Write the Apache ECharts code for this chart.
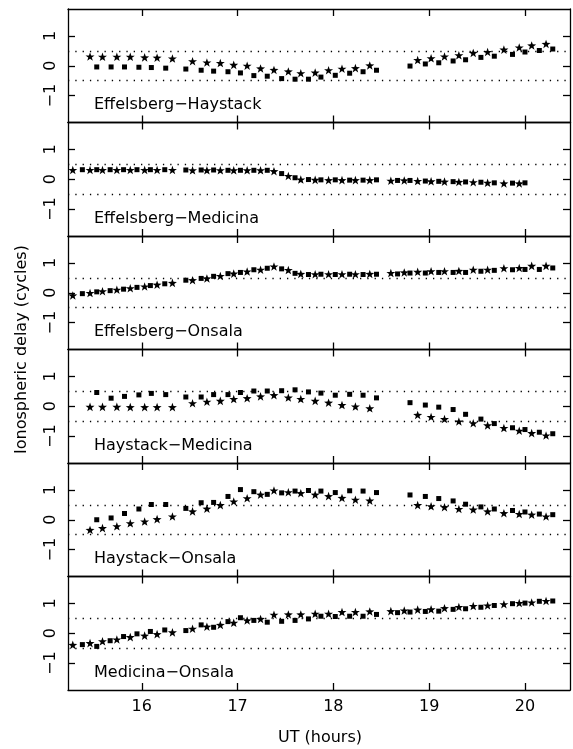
<!DOCTYPE html>
<html>
<head>
<meta charset="utf-8">
<script src="https://cdn.jsdelivr.net/npm/echarts@6/dist/echarts.min.js"></script>
<style>
  html, body { margin: 0; background: #fff; }
  #chart { width: 573px; height: 749px; }
</style>
</head>
<body>
<div id="chart"></div>
<script>
// baseline names, top to bottom
const panelNames = ['Effelsberg−Haystack', 'Effelsberg−Medicina', 'Effelsberg−Onsala',
                    'Haystack−Medicina', 'Haystack−Onsala', 'Medicina−Onsala'];

// scan times (UT hours) for baselines with Haystack
const hayStarT = [15.46, 15.59, 15.74, 15.88, 16.03, 16.16, 16.32,
  16.53, 16.68, 16.82, 16.96, 17.10, 17.24, 17.38, 17.53, 17.66, 17.81, 17.95, 18.09, 18.23, 18.38,
  18.88, 19.02, 19.16, 19.31, 19.46, 19.61, 19.78, 19.94, 20.07, 20.22];
const haySquareT = [15.53, 15.68, 15.82, 15.97, 16.10, 16.25,
  16.46, 16.62, 16.75, 16.90, 17.03, 17.17, 17.31, 17.46, 17.60, 17.74, 17.87, 18.02, 18.17, 18.31, 18.45,
  18.80, 18.96, 19.10, 19.25, 19.38, 19.54, 19.68, 19.87, 20.00, 20.15, 20.29];

// scan times (UT hours) for the european baselines
const eurStarT = [15.28, 15.46, 15.59, 15.74, 15.88, 16.03, 16.16, 16.32,
  16.53, 16.68, 16.82, 16.96, 17.10, 17.24, 17.38, 17.53, 17.66, 17.81, 17.95, 18.09, 18.23, 18.38,
  18.60, 18.74,
  18.88, 19.02, 19.16, 19.31, 19.46, 19.61, 19.78, 19.94, 20.07, 20.22];
const eurSquareT = [15.38, 15.53, 15.67, 15.81, 15.95, 16.09, 16.24,
  16.46, 16.62, 16.75, 16.90, 17.03, 17.17, 17.31, 17.46, 17.60, 17.74, 17.87, 18.02, 18.17, 18.31, 18.45,
  18.67,
  18.80, 18.96, 19.10, 19.25, 19.38, 19.54, 19.68, 19.87, 20.00, 20.15, 20.29];

// delays (cycles)
const ehStar = [0.31, 0.30, 0.30, 0.30, 0.28, 0.27, 0.24,
  0.15, 0.11, 0.09, 0.03, 0.00, -0.09, -0.14, -0.19, -0.25, -0.23, -0.15, -0.10, -0.08, 0.01,
  0.19, 0.25, 0.31, 0.35, 0.43, 0.46, 0.54, 0.61, 0.68, 0.73];
const ehSquare = [-0.04, -0.04, -0.04, -0.05, -0.06, -0.08,
  -0.11, -0.15, -0.18, -0.20, -0.24, -0.33, -0.35, -0.43, -0.45, -0.45, -0.38, -0.32, -0.25, -0.20, -0.15,
  -0.01, 0.06, 0.10, 0.16, 0.20, 0.28, 0.32, 0.38, 0.46, 0.51, 0.56];

const emStar = [0.31, 0.31, 0.31, 0.31, 0.31, 0.31, 0.31, 0.31,
  0.30, 0.30, 0.30, 0.30, 0.30, 0.30, 0.27, 0.11, -0.01, -0.02, -0.03, -0.03, -0.03, -0.03,
  -0.05, -0.04,
  -0.06, -0.07, -0.08, -0.09, -0.10, -0.12, -0.14, -0.14];
const emSquare = [0.32, 0.32, 0.32, 0.32, 0.32, 0.32, 0.32,
  0.31, 0.31, 0.31, 0.30, 0.30, 0.30, 0.30, 0.19, 0.05, -0.01, -0.02, -0.02, -0.03, -0.03, -0.02,
  -0.04,
  -0.04, -0.06, -0.07, -0.08, -0.09, -0.10, -0.12, -0.13, -0.12];

const eoStar = [-0.09, -0.01, 0.05, 0.10, 0.15, 0.21, 0.27, 0.33,
  0.42, 0.48, 0.56, 0.64, 0.71, 0.77, 0.88, 0.76, 0.63, 0.62, 0.62, 0.62, 0.62, 0.63,
  0.66, 0.68,
  0.70, 0.72, 0.72, 0.73, 0.77, 0.77, 0.82, 0.83, 0.90, 0.90];
const eoSquare = [-0.03, 0.03, 0.07, 0.12, 0.18, 0.24, 0.30,
  0.42, 0.48, 0.55, 0.64, 0.68, 0.77, 0.82, 0.80, 0.65, 0.61, 0.62, 0.61, 0.62, 0.61, 0.62,
  0.63,
  0.66, 0.66, 0.68, 0.68, 0.68, 0.72, 0.75, 0.77, 0.78, 0.78, 0.83];

const hmStar = [-0.02, -0.02, -0.02, -0.03, -0.03, -0.03, -0.03,
  0.10, 0.15, 0.18, 0.24, 0.27, 0.33, 0.37, 0.29, 0.24, 0.18, 0.12, 0.04, -0.01, -0.07,
  -0.29, -0.36, -0.43, -0.51, -0.57, -0.64, -0.73, -0.82, -0.90, -0.98];
const hmSquare = [0.46, 0.27, 0.33, 0.38, 0.43, 0.39,
  0.31, 0.31, 0.39, 0.39, 0.46, 0.51, 0.51, 0.52, 0.55, 0.48, 0.44, 0.37, 0.40, 0.37, 0.28,
  0.12, 0.04, -0.03, -0.11, -0.27, -0.43, -0.58, -0.72, -0.78, -0.87, -0.92];

const hoStar = [-0.34, -0.28, -0.22, -0.12, -0.06, 0.02, 0.11,
  0.28, 0.37, 0.49, 0.61, 0.72, 0.84, 0.98, 0.92, 0.89, 0.84, 0.79, 0.73, 0.67, 0.64,
  0.49, 0.45, 0.42, 0.36, 0.34, 0.28, 0.22, 0.19, 0.17, 0.11];
const hoSquare = [0.00, 0.06, 0.21, 0.36, 0.51, 0.51,
  0.38, 0.57, 0.58, 0.78, 1.01, 0.94, 0.85, 0.90, 0.96, 0.98, 0.96, 0.91, 0.97, 0.96, 0.91,
  0.83, 0.78, 0.71, 0.63, 0.52, 0.43, 0.36, 0.31, 0.26, 0.19, 0.17];

const moStar = [-0.39, -0.33, -0.27, -0.21, -0.13, -0.08, -0.03, 0.03,
  0.15, 0.22, 0.28, 0.35, 0.43, 0.48, 0.62, 0.63, 0.63, 0.65, 0.65, 0.71, 0.71, 0.73,
  0.74, 0.76,
  0.79, 0.80, 0.84, 0.88, 0.91, 0.93, 0.97, 1.01, 1.03, 1.08];
const moSquare = [-0.38, -0.44, -0.25, -0.11, -0.02, 0.06, 0.11,
  0.09, 0.28, 0.20, 0.39, 0.52, 0.43, 0.37, 0.40, 0.43, 0.48, 0.57, 0.56, 0.57, 0.57, 0.63,
  0.69,
  0.71, 0.73, 0.74, 0.80, 0.82, 0.87, 0.93, 0.99, 1.01, 1.07, 1.08];

const xTicks = [16, 17, 18, 19, 20];
const yTicks = [-1, 0, 1];
const refLines = [0.5, -0.5];

const panels = [
  { name: panelNames[0], starT: hayStarT, star: ehStar, squareT: haySquareT, square: ehSquare },
  { name: panelNames[1], starT: eurStarT, star: emStar, squareT: eurSquareT, square: emSquare },
  { name: panelNames[2], starT: eurStarT, star: eoStar, squareT: eurSquareT, square: eoSquare },
  { name: panelNames[3], starT: hayStarT, star: hmStar, squareT: haySquareT, square: hmSquare },
  { name: panelNames[4], starT: hayStarT, star: hoStar, squareT: haySquareT, square: hoSquare },
  { name: panelNames[5], starT: eurStarT, star: moStar, squareT: eurSquareT, square: moSquare },
];

const FONT = 'DejaVu Sans';
const STAR = 'path://M0,-10L2.35,-3.24L9.51,-3.09L3.8,1.24L5.88,8.09L0,4L-5.88,8.09L-3.8,1.24L-9.51,-3.09L-2.35,-3.24Z';
const TOP = 9, H = 113.5, LEFT = 68;

// pairs time/value, the value list may be shorter than the times
const zip = (t, v) => v.map((y, k) => [t[k], y]);

const line = { color: '#000', width: 1.3 };
const grids = [], xAxes = [], yAxes = [], series = [], graphics = [];

panels.forEach((p, i) => {
  const top = TOP + i * H;
  grids.push({ left: LEFT, right: 3, top: top, height: H });

  const last = i === panels.length - 1;
  ['bottom', 'top'].forEach(pos => {
    xAxes.push({
      gridIndex: i, type: 'value', min: 15.23, max: 20.47, position: pos,
      axisLine: { onZero: false, lineStyle: line },
      axisTick: { inside: true, length: 7, lineStyle: line, customValues: xTicks },
      axisLabel: { show: last && pos === 'bottom', customValues: xTicks, color: '#000',
                   fontSize: 16, fontFamily: FONT, margin: 9 },
      splitLine: { show: false }
    });
  });
  ['left', 'right'].forEach(pos => {
    yAxes.push({
      gridIndex: i, type: 'value', min: -1.9, max: 1.9, position: pos,
      axisLine: { onZero: false, lineStyle: line },
      axisTick: { inside: true, length: 7, lineStyle: line, customValues: yTicks },
      axisLabel: { show: pos === 'left', customValues: yTicks, rotate: 90, color: '#000',
                   fontSize: 16, fontFamily: FONT, margin: 9,
                   formatter: v => (v < 0 ? '−' + Math.abs(v) : String(v)) },
      splitLine: { show: false }
    });
  });

  series.push({
    type: 'scatter', xAxisIndex: 2 * i, yAxisIndex: 2 * i,
    symbol: STAR, symbolSize: 9, symbolKeepAspect: true,
    itemStyle: { color: '#000', opacity: 1 }, silent: true,
    data: zip(p.starT, p.star),
    markLine: {
      silent: true, symbol: ['none', 'none'], label: { show: false },
      lineStyle: { color: '#000', type: [1.3, 6], width: 1.3, opacity: 1 },
      data: refLines.map(y => ({ yAxis: y }))
    }
  });
  series.push({
    type: 'scatter', xAxisIndex: 2 * i, yAxisIndex: 2 * i,
    symbol: 'rect', symbolSize: 5,
    itemStyle: { color: '#000', opacity: 1 }, silent: true,
    data: zip(p.squareT, p.square)
  });

  graphics.push({
    type: 'text', left: 94, top: top + 88,
    style: { text: p.name, font: '16px "DejaVu Sans"', fill: '#000' }
  });
});

// axis titles
graphics.push({
  type: 'text', x: 22, y: TOP + 3 * H, rotation: Math.PI / 2,
  style: { text: 'Ionospheric delay (cycles)', font: '16px "DejaVu Sans"', fill: '#000',
           align: 'center', verticalAlign: 'middle' }
});
graphics.push({
  type: 'text', x: 320, y: 738,
  style: { text: 'UT (hours)', font: '16px "DejaVu Sans"', fill: '#000',
           align: 'center', verticalAlign: 'middle' }
});

const chart = echarts.init(document.getElementById('chart'));
chart.setOption({
  animation: false,
  backgroundColor: '#fff',
  grid: grids,
  xAxis: xAxes,
  yAxis: yAxes,
  series: series,
  graphic: graphics
});
</script>
</body>
</html>
